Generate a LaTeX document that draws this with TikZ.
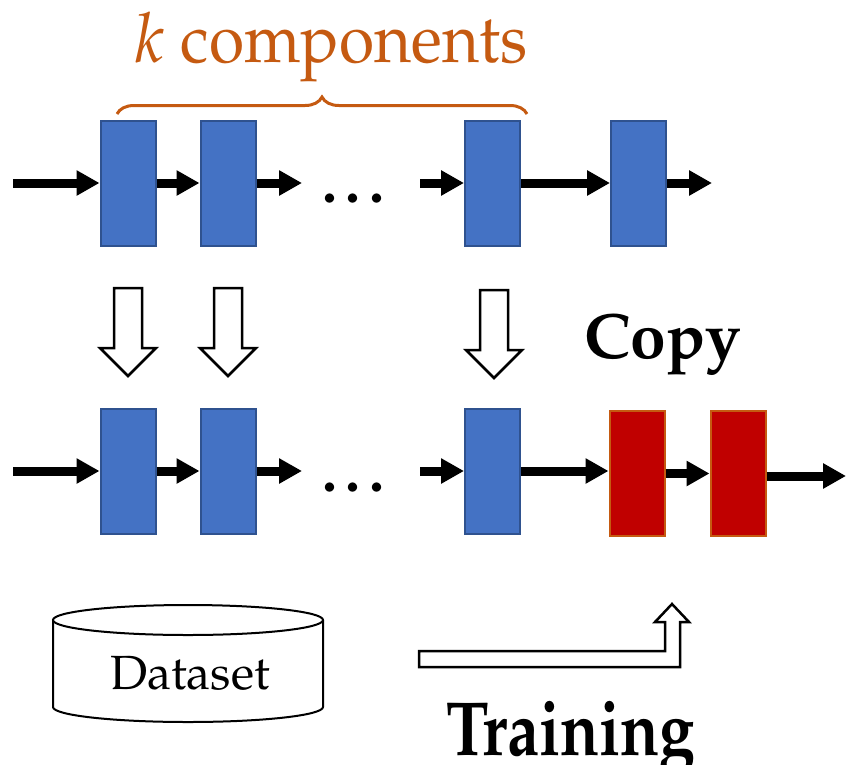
\documentclass[tikz,border=0pt]{standalone}
\usepackage[T1]{fontenc}
\usepackage{mathpazo}
\usetikzlibrary{arrows.meta,decorations.pathreplacing}
\definecolor{boxblue}{HTML}{4472C4}
\definecolor{blueedge}{HTML}{2F528F}
\definecolor{newred}{HTML}{C00000}
\definecolor{braceorange}{HTML}{C55A11}
\begin{document}
\begin{tikzpicture}[x=1pt,y=-1pt,
  block/.style={draw=blueedge, fill=boxblue, line width=2pt,
    minimum width=55pt, minimum height=125pt, inner sep=0pt},
  newblock/.style={block, draw=braceorange, fill=newred},
  flow/.style={line width=9pt, -{Triangle[length=23pt,width=24pt]}},
  hollow/.style={draw=black, fill=white, line width=2.5pt, line join=miter},
  dots/.style={anchor=base, font=\fontsize{60}{60}\selectfont\bfseries},
  title/.style={anchor=base, inner sep=0pt, font=\fontsize{64}{64}\selectfont\bfseries},
]
\useasboundingbox (0,0) rectangle (846,764);

% upper chain of components
\node[block] (a1) at (128,183) {};
\node[block] (a2) at (228,183) {};
\node[block] (a3) at (492.5,183) {};
\node[block] (a4) at (638.5,183) {};
\coordinate (ain) at (13,183);
\coordinate (aout2) at (302,183);
\coordinate (ain3) at (420,183);
\coordinate (aout) at (712,183);
\node[dots] (adots) at (358,202) {\ldots};

\draw[flow] (ain) -- (a1.west);
\draw[flow] (a1.east) -- (a2.west);
\draw[flow] (a2.east) -- (aout2);
\draw[flow] (ain3) -- (a3.west);
\draw[flow] (a3.east) -- (a4.west);
\draw[flow] (a4.east) -- (aout);

% brace over the first k components
\draw[decorate, decoration={brace, amplitude=17pt}, line width=3pt,
  braceorange] (117,114) -- (527,114);
\node[anchor=base, inner sep=0pt, text=braceorange, font=\fontsize{64}{64}\selectfont]
  (klabel) at (331,62) {\scalebox{1}[1.08]{$k$ components}};

% hollow copy arrows
\foreach \cx/\ty in {128/288, 228/288, 494/290}{
  \draw[hollow] ({\cx-14},\ty) -- ({\cx+14},\ty) -- ({\cx+14},{\ty+60})
    -- ({\cx+28},{\ty+60}) -- (\cx,{\ty+88}) -- ({\cx-28},{\ty+60})
    -- ({\cx-14},{\ty+60}) -- cycle;
}
\node[title] (copy) at (663,358) {Copy};

% lower chain with two new components
\node[block] (b1) at (128,471) {};
\node[block] (b2) at (228,471) {};
\node[block] (b3) at (492.5,471) {};
\node[newblock] (b4) at (637,473.5) {};
\node[newblock] (b5) at (738,473.5) {};
\coordinate (bin) at (13,471);
\coordinate (bout2) at (302,471);
\coordinate (bin3) at (420,471);
\coordinate (bout) at (846,476);
\node[dots] (bdots) at (358,491) {\ldots};

\draw[flow] (bin) -- (b1.west);
\draw[flow] (b1.east) -- (b2.west);
\draw[flow] (b2.east) -- (bout2);
\draw[flow] (bin3) -- (b3.west);
\draw[flow] (b3.east) -- (b3.east -| b4.west);
\draw[flow] (b4.east) -- (b5.west);
\draw[flow] (b5.east |- bout) -- (bout);

% dataset cylinder
\draw[line width=2pt, fill=white] (53,620) -- (53,707)
  arc[start angle=180, end angle=0, x radius=135, y radius=15] -- (323,620);
\draw[line width=2pt, fill=white] (188,620) ellipse [x radius=135, y radius=15];
\node[font=\fontsize{48}{48}\selectfont] (data) at (190,673) {Dataset};

% bent training arrow
\draw[hollow] (419,651) -- (665,651) -- (665,622) -- (655,622) -- (672,604)
  -- (689,622) -- (680,622) -- (680,667) -- (419,667) -- cycle;
\node[title] (train) at (571,755) {\scalebox{1}[1.2]{Training}};
\end{tikzpicture}
\end{document}
